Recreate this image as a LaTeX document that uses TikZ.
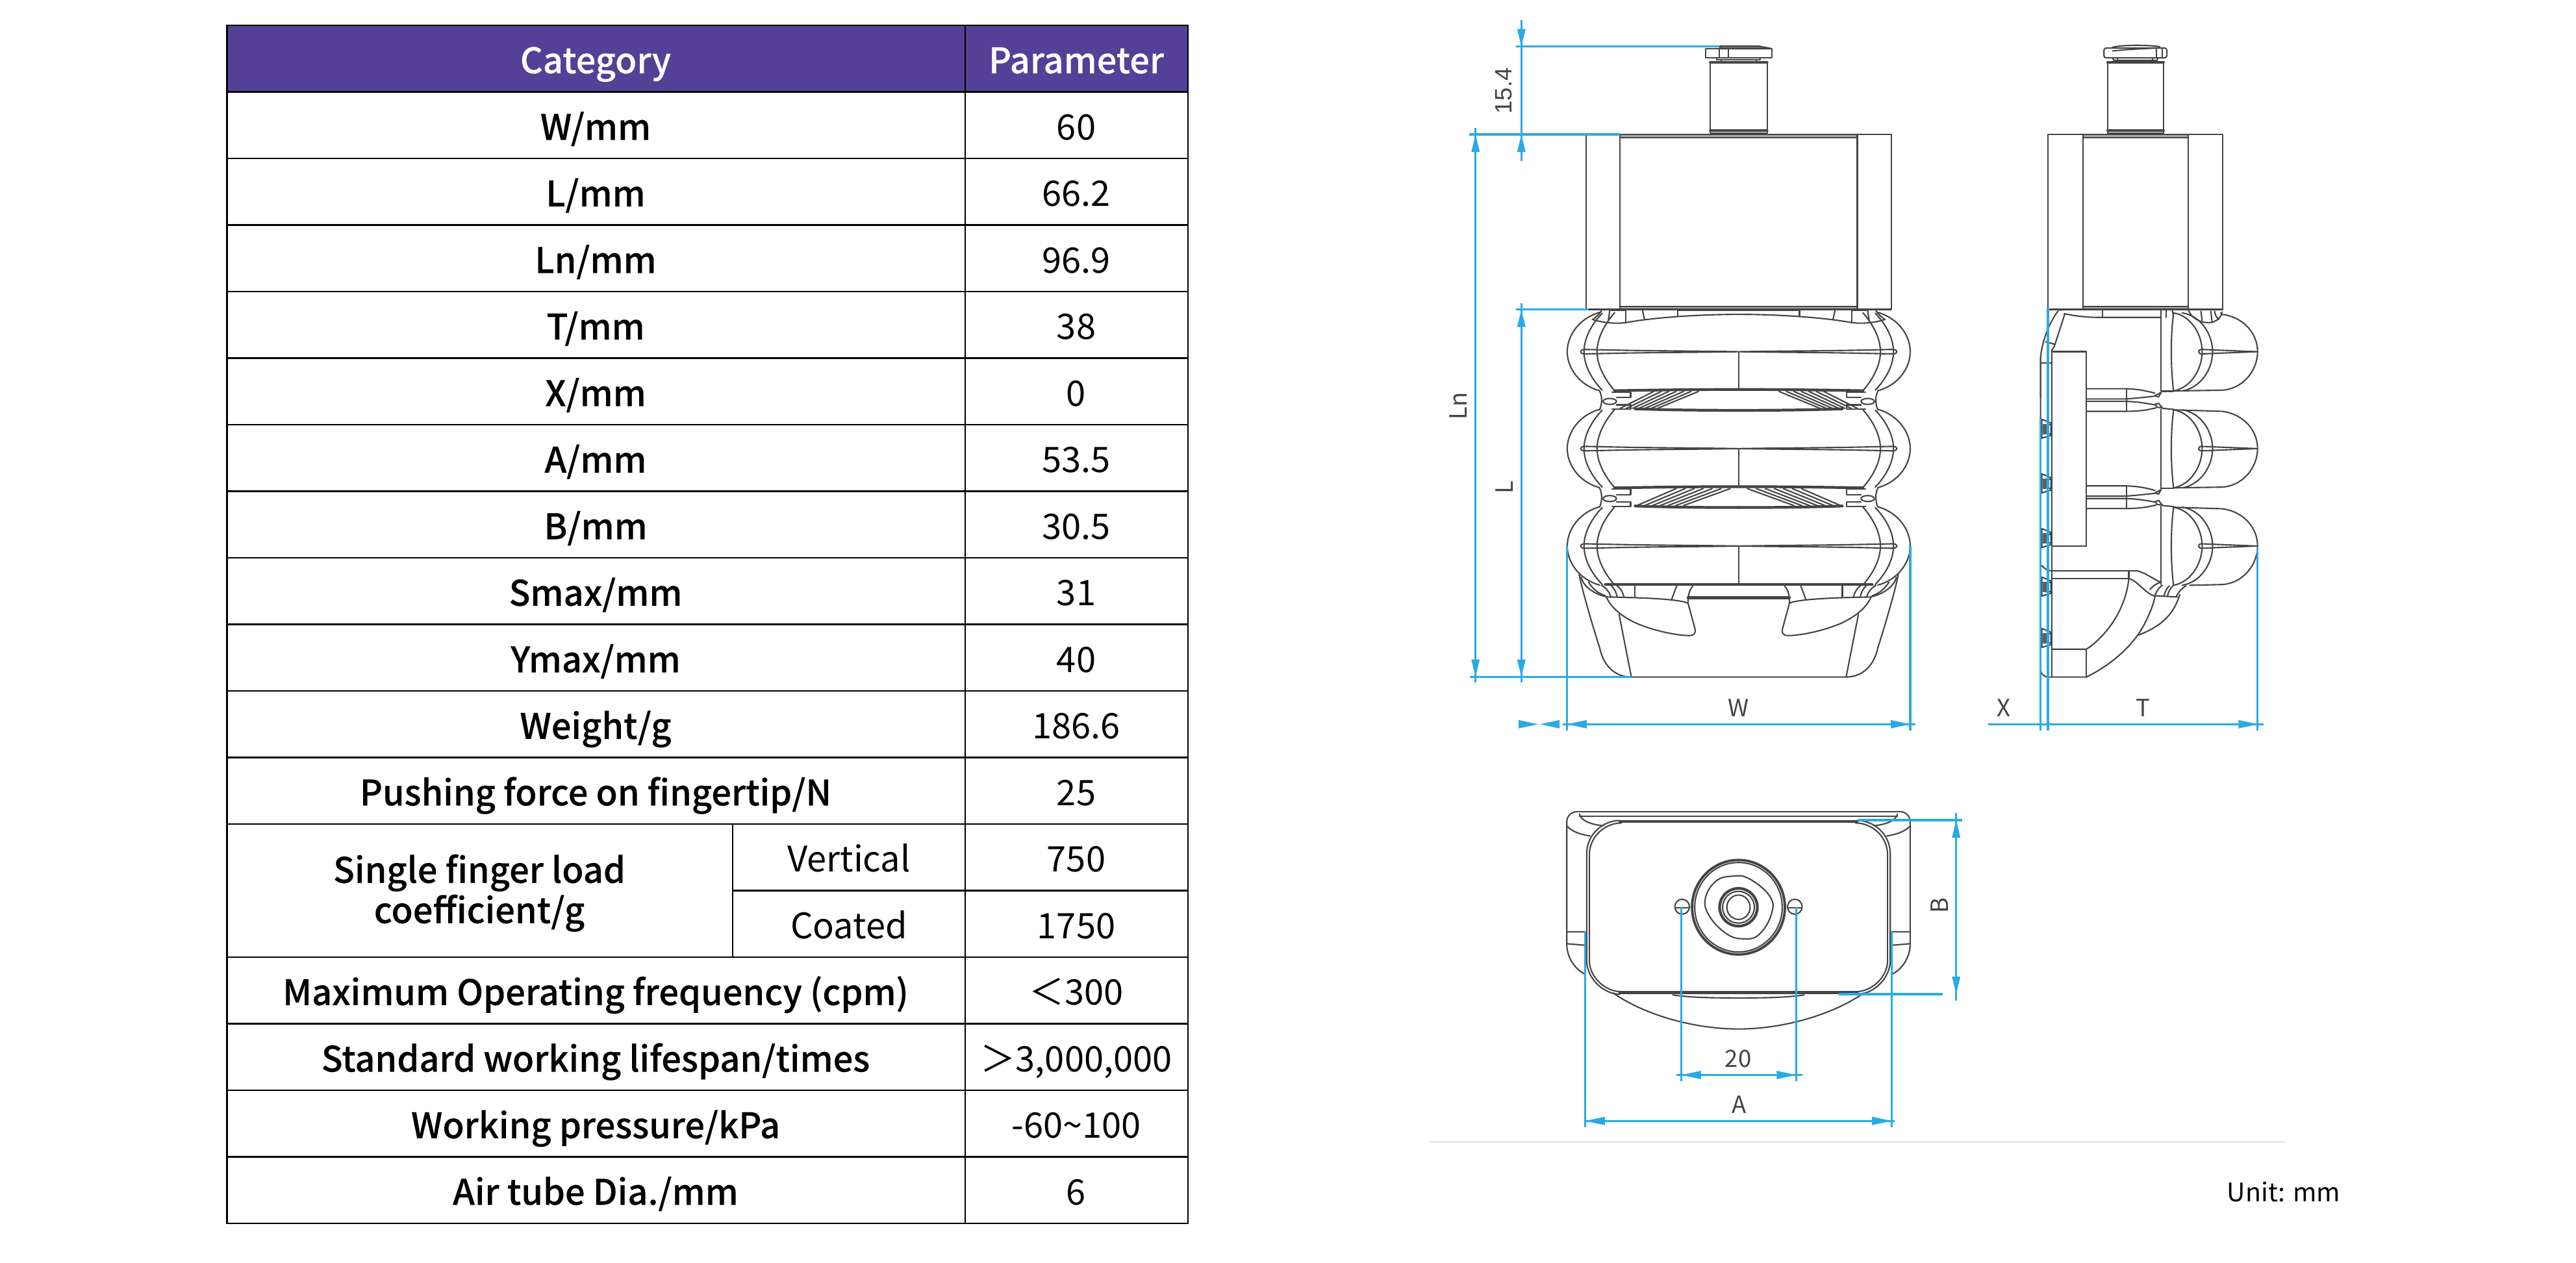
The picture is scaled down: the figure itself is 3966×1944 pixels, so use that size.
\documentclass[tikz,border=0pt]{standalone}
\usepackage{fontspec}
\setmainfont{Noto Sans CJK SC}
\newfontfamily\medfont[FakeBold=0.2]{Noto Sans CJK SC Medium}
\newfontfamily\dimfont{Liberation Sans}
\definecolor{headpurple}{HTML}{544096}
\definecolor{dimblue}{HTML}{29ABE2}
\definecolor{dgray}{HTML}{444444}
\definecolor{bandgray}{HTML}{A8A8A8}
\definecolor{navyc}{HTML}{3A4060}
\definecolor{rulegray}{HTML}{C8C8C8}
\tikzset{
  bodyline/.style={color=dgray,line width=0.6pt,line cap=round,line join=round},
  heavyline/.style={line width=1.2pt},
  dimline/.style={draw=dimblue,line width=0.9pt},
  dimlabel/.style={text=dgray,inner sep=0pt,font=\fontsize{10.4}{12}\selectfont},
  dimlabelb/.style={text=dgray,inner sep=0pt,font=\dimfont\fontsize{10.4}{12}\selectfont},
  labeltxt/.style={inner sep=0pt,anchor=base,font=\medfont\fontsize{15.4}{18}\selectfont},
  valuetxt/.style={inner sep=0pt,anchor=base,font=\fontsize{15.4}{18}\selectfont},
  headtxt/.style={inner sep=0pt,anchor=base,text=white,font=\medfont\fontsize{15.4}{18}\selectfont},
  gridline/.style={draw=black,line width=0.7pt,line cap=rect}
}
\def\rh{102.5}
\def\tb{22.5}
% arrowheads in picture pixels
\newcommand\arU[2]{\fill[dimblue] (#1,#2) -- (#1-6.5,#2+27) -- (#1+6.5,#2+27) -- cycle;}
\newcommand\arD[2]{\fill[dimblue] (#1,#2) -- (#1-6.5,#2-27) -- (#1+6.5,#2-27) -- cycle;}
\newcommand\arL[2]{\fill[dimblue] (#1,#2) -- (#1+30,#2-6.5) -- (#1+30,#2+6.5) -- cycle;}
\newcommand\arR[2]{\fill[dimblue] (#1,#2) -- (#1-30,#2-6.5) -- (#1-30,#2+6.5) -- cycle;}
\newcommand\lobeL[1]{\begin{scope}[shift={(0,#1)}]
  \draw (545,-158) .. controls (490,-135) and (458,-65) .. (458,0) .. controls (458,65) and (490,135) .. (545,157);
  \draw (552,-155) .. controls (520,-105) and (503,-50) .. (503,0) .. controls (503,50) and (520,105) .. (552,155);
  \draw (585,-157) .. controls (555,-105) and (538,-50) .. (538,0) .. controls (538,50) and (555,105) .. (585,157);
  \draw (918,0) .. controls (800,-3) and (700,-3) .. (600,-6) -- (505,-9) .. controls (490,-9) and (490,9) .. (505,9) -- (600,6) .. controls (700,3) and (800,3) .. (918,0);
  \draw (918,2) -- (918,150);
\end{scope}}
\newcommand\waistL[5]{\begin{scope}[shift={(0,#1)}]
  \draw (545,-35) .. controls (552,-15) and (552,15) .. (545,40);
  \draw (572,6) ellipse [x radius=18,y radius=12];
  \draw (578,-32) -- (628,-32) -- (628,-10) -- (590,-10);
  \draw (590,20) -- (628,20) -- (628,38) -- (578,38);
  \draw[heavyline] (585,-37) .. controls (700,-40) and (800,-42) .. (918,-42);
  \draw[heavyline] (640,36) .. controls (720,40) and (800,42) .. (918,42);
  \foreach \i in {0,...,6} \draw ({#2+(#3-#2)*\i/6},-34) -- ({#4+(#5-#4)*\i/6},34);
\end{scope}}
\newcommand\frontBase{
  \draw (490,875) .. controls (500,950) and (530,1100) .. (545,1170) .. controls (555,1240) and (585,1287) .. (630,1287) -- (918,1287);
  \draw (597,1035) -- (630,1287);
  \draw (495,885) .. controls (500,920) and (530,955) .. (565,965);
  \draw[heavyline] (560,915) -- (918,915);
  \draw (515,905) .. controls (525,930) and (540,950) .. (560,960);
  \draw (550,918) .. controls (565,930) and (572,950) .. (575,965);
  \draw (575,918) .. controls (585,930) and (590,950) .. (592,965);
  \draw (590,918) .. controls (602,930) and (608,950) .. (610,965);
  \draw (640,918) -- (640,965);
  \draw (563,965) .. controls (575,1010) and (610,1050) .. (650,1075) .. controls (700,1105) and (760,1122) .. (790,1120) .. controls (800,1118) and (803,1105) .. (801,1095) -- (782,990) .. controls (760,975) and (680,968) .. (563,965);
  \draw (752,920) .. controls (745,945) and (742,960) .. (738,975);
  \draw (795,920) .. controls (785,940) and (782,955) .. (782,990);
  \draw[heavyline] (782,968) -- (918,968);
}
\newcommand\frontTopHalf{
  \draw (600,542) -- (600,1245);
  \draw (550,1250) .. controls (545,1262) and (538,1272) .. (528,1284);
  \draw (572,1250) -- (568,1292);
  \draw (575,1250) -- (615,1250);
  \draw (615,1252) -- (615,1295);
  \draw (660,1250) -- (665,1284);
  \draw (525,1285) .. controls (550,1298) and (590,1305) .. (620,1297) .. controls (680,1280) and (800,1265) .. (918,1265);
  \draw (755,1248) -- (755,1272);
  \draw (755,1248) -- (918,1248);
}
\newcommand\sideLobe[3]{\begin{scope}[shift={(0,#1)}]
  \draw (#2,-156) -- (1100,-150) .. controls (1185,-140) and (1243,-75) .. (1243,0) .. controls (1243,75) and (1185,150) .. (1100,155) -- (#3,158);
  \draw (905,-156) .. controls (975,-145) and (1020,-70) .. (1020,0) .. controls (1020,70) and (975,145) .. (905,158);
  \draw (940,-156) .. controls (1015,-145) and (1062,-70) .. (1062,0) .. controls (1062,70) and (1015,145) .. (940,158);
  \draw (905,-156) .. controls (893,-60) and (893,60) .. (905,158);
  \draw (1016,-9) .. controls (1003,-9) and (1003,9) .. (1016,9) -- (1240,0) -- cycle;
\end{scope}}
\newcommand\sideWaist[1]{\begin{scope}[shift={(0,#1)}]
  \draw (555,-45) -- (715,-45) .. controls (770,-43) and (800,-35) .. (830,-27);
  \draw (555,-4) -- (715,-4) .. controls (770,-8) and (800,-12) .. (830,-15);
  \draw (555,6) -- (715,6) .. controls (770,8) and (800,15) .. (830,20);
  \draw (555,46) -- (715,46) .. controls (770,46) and (800,40) .. (835,32);
  \draw (715,-45) -- (715,46);
  \draw (830,-17) -- (855,-30) -- (845,-12) -- cycle;
  \draw (830,18) -- (845,14) -- (860,32) -- (840,30) -- cycle;
  \draw (855,-35) -- (905,-35);
  \draw (860,34) -- (905,38);
\end{scope}}
\newcommand\clipmark[1]{\begin{scope}[shift={(0,#1)}]
  \draw[navyc] (375,0) -- (412,15) -- (412,65) -- (375,76) -- cycle;
  \fill[dgray!85] (380,18) rectangle (396,60);
  \draw[navyc] (402,22) rectangle (415,58);
\end{scope}}
\newcommand\bottomHalf{
  \draw (250,130) -- (738,130);
  \draw (258,150) -- (738,150);
  \draw (250,130) .. controls (232,132) and (220,150) .. (220,170) -- (220,670) .. controls (222,720) and (245,765) .. (275,785);
  \draw (258,140) .. controls (262,165) and (290,182) .. (330,187);
  \draw (222,190) .. controls (235,210) and (260,222) .. (290,228);
  \draw (222,615) -- (275,615);
  \draw (222,662) -- (275,668);
  \draw (380,166) .. controls (330,166) and (280,220) .. (280,300) -- (280,730) .. controls (280,800) and (330,865) .. (380,865);
  \draw (385,176) .. controls (335,176) and (288,230) .. (288,305) -- (288,730) .. controls (288,795) and (335,855) .. (385,855);
  \draw[heavyline] (380,170) -- (738,170);
  \draw[heavyline] (380,858) -- (738,858);
  \draw (360,860) .. controls (450,945) and (600,1005) .. (738,1005);
  \draw (540,868) .. controls (600,880) and (680,880) .. (738,880);
  \draw (568,513) ellipse [x radius=22,y radius=30];
  \draw (548,518) -- (588,518);
}
\begin{document}
\begin{tikzpicture}[x=0.01cm,y=-0.01cm]
\useasboundingbox (0,0) rectangle (3966,1944);
\fill[white] (0,0) rectangle (3966,1944);

% ---------- table ----------
\fill[headpurple] (349.5,39) rectangle (1829,141);
\foreach \r in {0,...,12,14,15,16,17,18}
  \draw[gridline] (349.5,{39+\rh*\r}) -- (1829,{39+\rh*\r});
\draw[gridline] (1128,{39+\rh*13}) -- (1829,{39+\rh*13});
\draw[gridline] (349.5,39) -- (349.5,{39+\rh*18});
\draw[gridline] (1829,39) -- (1829,{39+\rh*18});
\draw[gridline,line width=0.5pt] (1486,39) -- (1486,{39+\rh*18});
\draw[gridline,line width=0.5pt] (1128,{39+\rh*12}) -- (1128,{39+\rh*14});

\node[headtxt] (hcat) at (917,{39+\rh*0.5+\tb}) {Category};
\node[headtxt] (hpar) at (1657,{39+\rh*0.5+\tb}) {Parameter};
\node[labeltxt] (l1) at (917,{39+\rh*1.5+\tb}) {W/mm};
\node[labeltxt] (l2) at (917,{39+\rh*2.5+\tb}) {L/mm};
\node[labeltxt] (l3) at (917,{39+\rh*3.5+\tb}) {Ln/mm};
\node[labeltxt] (l4) at (917,{39+\rh*4.5+\tb}) {T/mm};
\node[labeltxt] (l5) at (917,{39+\rh*5.5+\tb}) {X/mm};
\node[labeltxt] (l6) at (917,{39+\rh*6.5+\tb}) {A/mm};
\node[labeltxt] (l7) at (917,{39+\rh*7.5+\tb}) {B/mm};
\node[labeltxt] (l8) at (917,{39+\rh*8.5+\tb}) {Smax/mm};
\node[labeltxt] (l9) at (917,{39+\rh*9.5+\tb}) {Ymax/mm};
\node[labeltxt] (l10) at (917,{39+\rh*10.5+\tb}) {Weight/g};
\node[labeltxt] (l11) at (917,{39+\rh*11.5+\tb}) {Pushing force on fingertip/N};
\node[labeltxt] (l12a) at (738,1359.5) {Single finger load};
\node[labeltxt] (l12b) at (738,1421.5) {coefficient/g};
\node[valuetxt] (s12) at (1307,{39+\rh*12.5+\tb}) {Vertical};
\node[valuetxt] (s13) at (1307,{39+\rh*13.5+\tb}) {Coated};
\node[labeltxt] (l14) at (917,{39+\rh*14.5+\tb}) {Maximum Operating frequency (cpm)};
\node[labeltxt] (l15) at (917,{39+\rh*15.5+\tb}) {Standard working lifespan/times};
\node[labeltxt] (l16) at (917,{39+\rh*16.5+\tb}) {Working pressure/kPa};
\node[labeltxt] (l17) at (917,{39+\rh*17.5+\tb}) {Air tube Dia./mm};
\node[valuetxt] (v1) at (1657,{39+\rh*1.5+\tb}) {60};
\node[valuetxt] (v2) at (1657,{39+\rh*2.5+\tb}) {66.2};
\node[valuetxt] (v3) at (1657,{39+\rh*3.5+\tb}) {96.9};
\node[valuetxt] (v4) at (1657,{39+\rh*4.5+\tb}) {38};
\node[valuetxt] (v5) at (1657,{39+\rh*5.5+\tb}) {0};
\node[valuetxt] (v6) at (1657,{39+\rh*6.5+\tb}) {53.5};
\node[valuetxt] (v7) at (1657,{39+\rh*7.5+\tb}) {30.5};
\node[valuetxt] (v8) at (1657,{39+\rh*8.5+\tb}) {31};
\node[valuetxt] (v9) at (1657,{39+\rh*9.5+\tb}) {40};
\node[valuetxt] (v10) at (1657,{39+\rh*10.5+\tb}) {186.6};
\node[valuetxt] (v11) at (1657,{39+\rh*11.5+\tb}) {25};
\node[valuetxt] (v12) at (1657,{39+\rh*12.5+\tb}) {750};
\node[valuetxt] (v13) at (1657,{39+\rh*13.5+\tb}) {1750};
\node[valuetxt] (v14) at (1657,{39+\rh*14.5+\tb}) {＜300};
\node[valuetxt] (v15) at (1657,{39+\rh*15.5+\tb}) {＞3,000,000};
\node[valuetxt] (v16) at (1657,{39+\rh*16.5+\tb}) {-60{\char"7E}100};
\node[valuetxt] (v17) at (1657,{39+\rh*17.5+\tb}) {6};

% ---------- front view: stem and head in picture pixels ----------
\begin{scope}[bodyline]
  \draw (2633,97) rectangle (2720.7,205);
  \draw[line width=1.1pt] (2633,96) -- (2720.7,96);
  \draw[line width=1.1pt] (2633,201) -- (2720.7,201);
  \draw (2625.7,75) rectangle (2728,89);
  \draw (2646.7,75) -- (2646.7,89);
  \draw (2661,75) -- (2661,89);
  \draw[fill=dgray!75] (2648,71) -- (2708,71) -- (2728,75) -- (2648,75) -- cycle;
  \draw (2643,89) -- (2643,92) -- (2710,92) -- (2710,89);
  \draw (2650,92) -- (2650,95);
  \draw (2704,92) -- (2704,95);
\end{scope}
% ---------- front view: body ----------
\begin{scope}[bodyline,shift={(2150,0)},xscale=0.574,yscale=0.3827]
  \draw (508,542) rectangle (1328,1245);
  \draw[fill=bandgray] (600,542) rectangle (1236,554);
  \draw[fill=bandgray] (600,1234) rectangle (1236,1245);
  \frontTopHalf
  \begin{scope}[shift={(918,0)},xscale=-1,shift={(-918,0)}]\frontTopHalf\end{scope}
\end{scope}
\begin{scope}[bodyline,shift={(2150,550)},xscale=0.574,yscale=0.3827]
  \foreach \mir in {1,-1}{
  \begin{scope}[shift={(918,0)},xscale=\mir,shift={(-918,0)}]
    \lobeL{-22}\lobeL{368}\lobeL{760}
    \frontBase
  \end{scope}}
  \waistL{172}{690}{810}{600}{700}
  \waistL{563}{750}{895}{645}{770}
  \begin{scope}[shift={(918,0)},xscale=-1,shift={(-918,0)}]
    \waistL{172}{690}{810}{600}{700}
    \waistL{563}{750}{895}{645}{770}
  \end{scope}
\end{scope}

% ---------- side view ----------
\begin{scope}[bodyline,shift={(3000,0)},scale=0.3827]
  \draw (400,542) rectangle (1102,1245);
  \draw (540,542) -- (540,1245);
  \draw (965,542) -- (965,1245);
  \draw[fill=bandgray] (540,542) rectangle (965,554);
  \draw[fill=bandgray] (540,1234) rectangle (965,1245);
  \draw (640,252) rectangle (865,537);
  \draw[line width=1.1pt] (640,250) -- (865,250);
  \draw[line width=1.1pt] (640,525) -- (865,525);
  \draw[rounded corners=1pt] (625,193) rectangle (878,233);
  \draw (835,193) -- (835,233);
  \draw (860,193) -- (860,233);
  \draw (660,190) .. controls (700,180) and (800,180) .. (850,188);
  \draw (660,205) .. controls (720,198) and (790,196) .. (835,193);
  \draw (660,233) -- (665,243) -- (838,243) -- (842,233);
  \draw (680,233) -- (680,243);
  \draw (820,233) -- (820,243);
  % upper part of the back plate
  \draw (440,1252) .. controls (410,1290) and (375,1370) .. (370,1440) -- (370,1600);
  \draw (468,1262) -- (425,1395) -- (415,1410) -- (415,1600);
  \draw (390,1375) -- (425,1385);
  \draw (370,1460) -- (415,1460);
  \draw (420,1415) -- (555,1415) -- (555,1600);
  \draw (465,1262) .. controls (510,1272) and (560,1278) .. (620,1277) -- (855,1277);
  \draw (440,1248) -- (485,1245);
  \draw (620,1248) -- (620,1277);
  \draw (875,1248) -- (875,1277);
  \draw (900,1248) -- (905,1277);
  \draw (965,1248) .. controls (975,1280) and (1020,1305) .. (1060,1297) .. controls (1085,1290) and (1100,1270) .. (1100,1255);
  \draw (1015,1252) -- (1020,1290);
  \draw (1055,1252) -- (1060,1295);
  \draw (1070,1252) .. controls (1072,1270) and (1080,1280) .. (1088,1285);
\end{scope}
\begin{scope}[bodyline,shift={(3000,550)},scale=0.3827]
  \sideLobe{-22}{1095}{905}
  \sideLobe{368}{905}{905}
  \sideLobe{760}{905}{970}
  \sideWaist{172}
  \sideWaist{563}
  \draw (855,-187) -- (855,135);
  \draw (855,210) -- (855,530);
  \draw (855,600) -- (855,915);
  \draw (555,0) -- (555,760) -- (415,760);
  \draw (415,0) -- (415,1287);
  \draw (370,0) -- (370,1260) .. controls (372,1275) and (385,1287) .. (400,1287) -- (555,1287);
  \clipmark{250}\clipmark{470}\clipmark{690}\clipmark{885}\clipmark{1092}
  % base
  \draw (375,838) .. controls (385,850) and (395,858) .. (415,860) -- (760,860) .. controls (790,868) and (820,890) .. (852,905);
  \draw (415,890) -- (725,890);
  \draw (725,860) -- (725,890);
  \draw (725,890) .. controls (715,1000) and (650,1110) .. (555,1175) -- (415,1175);
  \draw (555,1175) -- (555,1287);
  \draw (555,1287) .. controls (640,1245) and (740,1170) .. (790,1070) .. controls (810,1030) and (822,1000) .. (830,965);
  \draw (725,890) .. controls (760,900) and (790,950) .. (830,962);
  \draw (765,1118) .. controls (850,1085) and (905,1040) .. (930,955);
  \draw (810,935) .. controls (825,918) and (838,910) .. (855,905);
  \draw (830,960) -- (920,965);
  \draw (830,960) .. controls (835,942) and (848,925) .. (860,918);
  \draw (866,962) .. controls (870,945) and (878,930) .. (888,920);
  \draw (880,962) .. controls (884,945) and (892,930) .. (902,920);
  \draw (915,965) .. controls (925,945) and (938,930) .. (955,920);
\end{scope}

% ---------- bottom view ----------
\begin{scope}[bodyline,shift={(2300,1200)},xscale=0.5102,yscale=0.3827]
  \bottomHalf
  \begin{scope}[shift={(738,0)},xscale=-1,shift={(-738,0)}]\bottomHalf\end{scope}
  \draw[line width=1.1pt] (738,515) ellipse [x radius=140,y radius=190];
  \draw (738,515) ellipse [x radius=132,y radius=180];
  \draw plot[smooth cycle,tension=0.7] coordinates {(720,390) (770,400) (832,470) (838,540) (800,625) (750,642) (700,620) (650,550) (638,480) (670,410)};
  \draw[heavyline] (738,515) ellipse [x radius=57,y radius=76];
  \draw (738,515) ellipse [x radius=48,y radius=64];
  \draw (738,515) ellipse [x radius=35,y radius=49];
\end{scope}

% ---------- dimensions ----------
\begin{scope}
  \draw[dimline] (2342.3,30.6) -- (2342.3,248);
  \draw[dimline] (2333.7,71.6) -- (2646.6,71.6);
  \draw[dimline] (2262,207) -- (2494,207);
  \arD{2342.3}{71.6}\arU{2342.3}{207}
  \node[dimlabelb,rotate=90] (d154) at (2315,140) {15.4};
  \draw[dimline] (2271.7,197) -- (2271.7,1051);
  \arU{2271.7}{207}\arD{2271.7}{1042.5}
  \node[dimlabel,rotate=90] (dLn) at (2245,625) {Ln};
  \draw[dimline] (2342.3,467) -- (2342.3,1051);
  \draw[dimline] (2333.7,476.5) -- (2445.6,476.5);
  \arU{2342.3}{476.5}\arD{2342.3}{1042.5}
  \node[dimlabel,rotate=90] (dL) at (2316.5,751) {L};
  \draw[dimline] (2263,1042.5) -- (2511.7,1042.5);
  \draw[dimline] (2405.5,1115.3) -- (2949,1115.3);
  \draw[dimline] (2412.8,841) -- (2412.8,1124.8);
  \draw[dimline] (2941,841) -- (2941,1124.8);
  \arL{2412.8}{1115.3}\arR{2941}{1115.3}
  \arR{2368}{1115.3}\arL{2371}{1115.3}
  \node[dimlabel] (dW) at (2677,1090) {W};
  \draw[dimline] (3061,1115.3) -- (3485,1115.3);
  \draw[dimline] (3141.6,645) -- (3141.6,1125);
  \draw[dimline] (3153,474.5) -- (3153,1125);
  \draw[dimline] (3475.7,842.8) -- (3475.7,1124.8);
  \arR{3476.4}{1115.3}
  \node[dimlabel] (dX) at (3085,1090) {X};
  \node[dimlabel] (dT) at (3299,1090) {T};
  \draw[dimline] (2438.8,1726.2) -- (2917,1726.2);
  \draw[dimline] (2440.8,1435) -- (2440.8,1735.8);
  \draw[dimline] (2912.2,1435) -- (2912.2,1735.8);
  \arL{2440.8}{1726.2}\arR{2912.2}{1726.2}
  \node[dimlabel] (dA) at (2677.5,1701) {A};
  \draw[dimline] (2580.6,1655.4) -- (2774.5,1655.4);
  \draw[dimline] (2588.8,1397) -- (2588.8,1665);
  \draw[dimline] (2765.3,1397) -- (2765.3,1665);
  \arL{2588.8}{1655.4}\arR{2765.3}{1655.4}
  \node[dimlabel] (d20) at (2676,1630.5) {20};
  \draw[dimline] (3011.7,1251.7) -- (3011.7,1540.6);
  \draw[dimline] (2861,1263) -- (3021,1263);
  \draw[dimline] (2830.6,1531) -- (2991.3,1531);
  \arU{3011.7}{1263}\arD{3011.7}{1531}
  \node[dimlabel,rotate=90] (dB) at (2986,1394.4) {B};
\end{scope}

% ---------- rule and unit ----------
\draw[rulegray,line width=0.35pt] (2201,1758.5) -- (3520,1758.5);
\node[inner sep=0pt,anchor=base west,font=\fontsize{11.2}{13}\selectfont] (unit) at (3428,1850.7) {Unit: mm};
\end{tikzpicture}
\end{document}
